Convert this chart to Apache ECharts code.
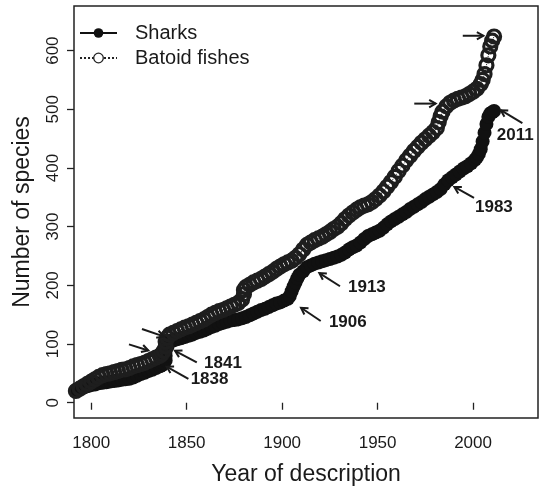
<!DOCTYPE html>
<html>
<head>
<meta charset="utf-8">
<script src="https://cdn.jsdelivr.net/npm/echarts@6/dist/echarts.min.js"></script>
<style>
  html, body { margin: 0; padding: 0; background: #ffffff; }
  #chart { width: 539px; height: 491px; }
</style>
</head>
<body>
<div id="chart"></div>
<script>
// Cumulative number of described species by year of description
const sharkYears = [1792,1794,1796,1798,1800,1802,1804,1806,1808,1810,1812,1814,1816,1818,1820,1822,1824,1826,1828,1830,1832,1834,1836,1837,1838,1839,1839,1839,1840,1840,1841,1843,1845,1847,1849,1851,1853,1855,1857,1859,1861,1863,1865,1867,1869,1871,1873,1875,1877,1879,1881,1883,1885,1887,1889,1891,1893,1895,1897,1899,1901,1903,1904,1905,1906,1907,1908,1909,1911,1913,1915,1917,1919,1921,1923,1925,1927,1929,1931,1933,1935,1937,1939,1941,1943,1945,1947,1949,1951,1953,1955,1957,1959,1961,1963,1965,1967,1969,1971,1973,1975,1977,1979,1981,1983,1985,1987,1989,1991,1993,1995,1997,1999,2001,2002,2003,2004,2005,2006,2007,2008,2009,2010,2011];
const sharkCounts = [22,24,26,28,30,31,33,34,35,36,37,38,39,40,41,43,46,49,51,54,56,59,62,64,67,72,80,88,96,102,105,106,108,110,112,114,116,119,121,123,126,129,131,134,136,138,140,141,142,144,146,149,152,155,158,160,163,166,169,171,174,177,182,190,198,205,212,218,224,231,234,237,239,241,243,245,247,249,252,256,261,265,268,273,279,284,287,290,293,298,304,309,313,317,321,325,330,334,338,342,347,351,355,359,364,372,379,384,389,394,399,403,408,414,418,424,432,445,460,475,487,493,495,497];

const batoidYears = [1792,1794,1796,1798,1800,1802,1804,1806,1808,1810,1812,1814,1816,1818,1820,1822,1824,1826,1828,1830,1832,1834,1836,1837,1838,1839,1839,1840,1841,1843,1845,1847,1849,1851,1853,1855,1857,1859,1861,1863,1865,1867,1869,1871,1873,1875,1877,1879,1880,1880,1881,1883,1885,1887,1889,1891,1893,1895,1897,1899,1901,1903,1905,1907,1909,1911,1913,1915,1917,1919,1921,1923,1925,1927,1929,1931,1933,1935,1937,1939,1941,1943,1945,1947,1949,1951,1953,1955,1957,1959,1961,1963,1965,1967,1969,1971,1973,1975,1977,1979,1981,1982,1983,1984,1986,1988,1990,1992,1994,1996,1998,2000,2002,2004,2005,2006,2007,2008,2009,2010,2011];
const batoidCounts = [20,24,28,32,36,40,44,47,49,50,52,54,56,57,59,62,64,66,68,71,74,77,80,83,88,96,104,111,116,119,122,125,128,130,133,136,139,142,146,150,153,156,158,161,164,167,170,176,185,192,197,201,205,208,211,215,219,223,228,232,236,239,242,247,253,261,269,273,277,280,283,287,291,296,300,306,313,319,324,329,333,336,338,342,347,353,360,368,376,385,395,404,413,421,429,436,443,449,455,461,468,478,488,496,505,511,515,518,520,522,526,530,535,543,550,560,575,592,607,617,624];

// Axis ticks
const yearTicks = [1800, 1850, 1900, 1950, 2000];
const countTicks = [0, 100, 200, 300, 400, 500, 600];

// Arrow annotations (year, count): tail and head of each arrow, plus its label
const arrowTails = [[1994.6,625.3],[1969.2,509.7],[2025.8,476.4],[2000.5,349.0],[1930.3,198.5],[1920.2,139.3],[1855.3,68.7],[1850.9,40.5],[1826.6,125.7],[1819.8,99.5]];
const arrowTips  = [[2005.4,625.3],[1980.4,509.7],[2014.5,498.4],[1990.2,367.6],[1919.5,221.0],[1909.9,161.8],[1843.9,88.5],[1839.5,61.5],[1837.9,113.0],[1829.9,89.0]];
const noteTexts  = ['', '', '2011', '1983', '1913', '1906', '1841', '1838', '', ''];
const noteAnchors = [null, null, [2012.4,456.1],[2001.0,332.6],[1934.5,197.3],[1924.5,136.4],[1859.1,67.0],[1852.1,40.0], null, null];

const FONT = '"Liberation Sans", Arial, Helvetica, sans-serif';
const INK = '#1a1a1a';

const chart = echarts.init(document.getElementById('chart'), null, { renderer: 'canvas' });

function renderArrow(params, api) {
  const i = params.dataIndex;
  const tail = api.coord(arrowTails[i]);
  const tip = api.coord(arrowTips[i]);
  const ang = Math.atan2(tail[1] - tip[1], tail[0] - tip[0]);
  const L = 7.5, spread = 0.52;
  const h1 = [tip[0] + L * Math.cos(ang + spread), tip[1] + L * Math.sin(ang + spread)];
  const h2 = [tip[0] + L * Math.cos(ang - spread), tip[1] + L * Math.sin(ang - spread)];
  const children = [
    { type: 'line', shape: { x1: tail[0], y1: tail[1], x2: tip[0], y2: tip[1] },
      style: { stroke: INK, lineWidth: 2 } },
    { type: 'polyline', shape: { points: [h1, tip, h2] },
      style: { stroke: INK, lineWidth: 2, fill: null } }
  ];
  if (noteTexts[i]) {
    const p = api.coord(noteAnchors[i]);
    children.push({ type: 'text', style: {
      text: noteTexts[i], x: p[0], y: p[1], align: 'left', verticalAlign: 'middle',
      font: 'bold 17px ' + FONT, fill: INK } });
  }
  return { type: 'group', children };
}

chart.setOption({
  animation: false,
  backgroundColor: '#ffffff',
  textStyle: { fontFamily: FONT, color: INK },
  grid: { left: 74, right: 1, top: 6, bottom: 70, show: true, borderColor: '#222', borderWidth: 1.5, backgroundColor: 'transparent' },
  legend: {
    orient: 'vertical', left: 79, top: 23, padding: 0, itemWidth: 37, itemHeight: 12, itemGap: 5,
    selectedMode: false,
    textStyle: { fontSize: 20, color: INK, fontFamily: FONT, padding: [0, 0, 0, 13] },
    data: [
      { name: 'Sharks' },
      { name: 'Batoid fishes', itemStyle: { color: '#ffffff', borderColor: '#222', borderWidth: 1.3 } }
    ]
  },
  xAxis: {
    type: 'value', min: 1791, max: 2034,
    axisLine: { show: false },
    splitLine: { show: false },
    axisTick: { show: true, customValues: yearTicks, length: 7, lineStyle: { color: '#222', width: 1.3 } },
    axisLabel: { customValues: yearTicks, fontSize: 17, color: INK, margin: 17, fontFamily: FONT,
      formatter: v => String(v) },
    name: 'Year of description', nameLocation: 'middle', nameGap: 45,
    nameTextStyle: { fontSize: 23, color: INK, fontFamily: FONT }
  },
  yAxis: {
    type: 'value', min: -26, max: 676,
    axisLine: { show: false },
    splitLine: { show: false },
    axisTick: { show: true, customValues: countTicks, length: 7, lineStyle: { color: '#222', width: 1.3 } },
    axisLabel: { customValues: countTicks, rotate: 90, fontSize: 17, color: INK, margin: 12, fontFamily: FONT,
      formatter: v => String(v) },
    name: 'Number of species', nameLocation: 'middle', nameGap: 40, nameRotate: 90,
    nameTextStyle: { fontSize: 23, color: INK, fontFamily: FONT }
  },
  series: [
    {
      name: 'Sharks', type: 'line',
      data: sharkYears.map((y, i) => [y, sharkCounts[i]]),
      symbol: 'circle', symbolSize: 14, showAllSymbol: true,
      itemStyle: { color: '#111' },
      lineStyle: { color: '#111', width: 1 },
      emphasis: { disabled: true }, silent: true
    },
    {
      name: 'Batoid fishes', type: 'line',
      data: batoidYears.map((y, i) => [y, batoidCounts[i]]),
      symbol: 'circle', symbolSize: 13, showAllSymbol: true,
      itemStyle: { color: 'rgba(0,0,0,0)', borderColor: '#1e1e1e', borderWidth: 3.2 },
      lineStyle: { color: '#222', width: 1, type: 'dotted' },
      emphasis: { disabled: true }, silent: true
    },
    {
      name: 'notes', type: 'custom',
      data: arrowTips.map(t => [t[0], t[1]]),
      encode: { x: 0, y: 1 },
      renderItem: renderArrow,
      clip: false, silent: true, z: 5
    }
  ]
});
</script>
</body>
</html>
